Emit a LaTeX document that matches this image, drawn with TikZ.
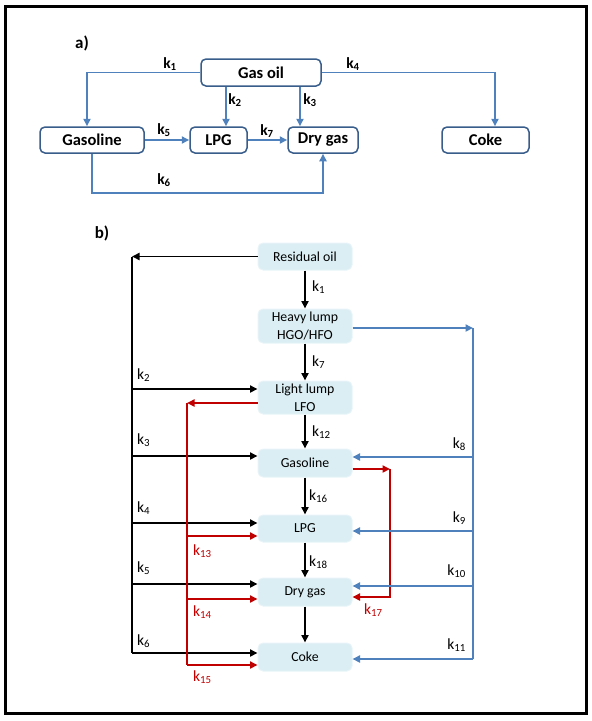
\documentclass[tikz,border=0pt]{standalone}
\usepackage{fontspec}
\setmainfont{Carlito}
\usetikzlibrary{arrows.meta,positioning}
\definecolor{lineblue}{RGB}{79,129,189}
\definecolor{boxedge}{RGB}{56,93,138}
\definecolor{lumpfill}{RGB}{218,238,243}
\definecolor{lumpedge}{RGB}{232,244,248}
\definecolor{darkred}{RGB}{192,0,0}
\tikzset{
  gbox/.style={draw=boxedge,line width=1.5pt,rounded corners=5pt,fill=white,
    minimum height=26pt,inner sep=0pt,font=\fontsize{16.5}{18}\selectfont\bfseries},
  lump/.style={fill=lumpfill,draw=lumpedge,line width=1pt,rounded corners=5pt,
    minimum width=94pt,inner sep=0pt,align=center,font=\fontsize{13.8}{18}\selectfont},
  tip/.style={-{Triangle[length=7.5pt,width=7pt]}},
  bline/.style={draw=lineblue,line width=1.9pt},
  barrow/.style={bline,tip},
  kline/.style={draw=black,line width=1.9pt},
  karrow/.style={kline,tip},
  rline/.style={draw=darkred,line width=1.9pt},
  rarrow/.style={rline,tip},
  klaba/.style={inner sep=0pt,font=\fontsize{15.5}{17}\selectfont\bfseries},
  klabb/.style={inner sep=0pt,font=\fontsize{15.5}{17}\selectfont},
}
\begin{document}
\begin{tikzpicture}[x=1pt,y=-1pt]
\useasboundingbox (0,0) rectangle (592,721);
\draw[line width=3pt] (5.5,6.5) rectangle (586.5,713.5);

% a) lumps of gas oil
\node[font=\fontsize{17}{19}\selectfont\bfseries] (tita) at (82,43) {a)};
\node[gbox,minimum width=120pt,minimum height=27pt] (gasoil) at (261,72.5) {Gas oil};
\node[gbox,minimum width=104pt] (gasoline) at (92,140) {Gasoline};
\node[gbox,minimum width=57pt] (lpg) at (218.5,140) {LPG};
\node[gbox,minimum width=70pt] (drygas) at (323,140) {Dry gas};
\node[gbox,minimum width=87pt] (coke) at (485.5,140) {Coke};
\draw[barrow] (gasoil.west) -| ([xshift=-5pt]gasoline.north);
\draw[barrow] (gasoil.east) -| ([xshift=9.5pt]coke.north);
\draw[barrow] ([xshift=7.5pt]lpg.north |- gasoil.south) -- ([xshift=7.5pt]lpg.north);
\draw[barrow] ([xshift=-23pt]drygas.north |- gasoil.south) -- ([xshift=-23pt]drygas.north);
\draw[barrow] (gasoline.east) -- (lpg.west);
\draw[barrow] (lpg.east) -- (drygas.west);
\draw[barrow] (gasoline.south) -- ++(0,39) -| (drygas.south);
\node[klaba] (ka1) at (170,64) {k\textsubscript{1}};
\node[klaba] (ka4) at (353,64) {k\textsubscript{4}};
\node[klaba] (ka2) at (235,100) {k\textsubscript{2}};
\node[klaba] (ka3) at (310,100) {k\textsubscript{3}};
\node[klaba] (ka5) at (164,130) {k\textsubscript{5}};
\node[klaba] (ka7) at (267,131) {k\textsubscript{7}};
\node[klaba] (ka6) at (164,180) {k\textsubscript{6}};

% b) lumps of residual oil
\node[font=\fontsize{17}{19}\selectfont\bfseries] (titb) at (102,233) {b)};
\node[lump,minimum height=27pt] (resid) at (305,256.5) {Residual oil};
\node[lump,minimum height=34pt] (heavy) at (305,326) {Heavy lump\\HGO/HFO};
\node[lump,minimum height=33pt] (light) at (305,397.5) {Light lump\\LFO};
\node[lump,minimum height=28pt] (gasb) at (305,463) {Gasoline};
\node[lump,minimum height=27pt] (lpgb) at (305,528.5) {LPG};
\node[lump,minimum height=28pt] (dryb) at (305,592) {Dry gas};
\node[lump,minimum height=28pt] (cokeb) at (305,657) {Coke};
\foreach \a/\b in {resid/heavy,heavy/light,light/gasb,gasb/lpgb,lpgb/dryb,dryb/cokeb}
  \draw[karrow] (\a) -- (\b);

% black branch on the left
\coordinate (ltop) at (132,256.5);
\coordinate (lbot) at (132,653);
\draw[karrow] (resid.west) -- (ltop);
\draw[kline] (ltop) -- (lbot);
\foreach \n/\s in {light/8.5,gasb/7,lpgb/5.5,dryb/8,cokeb/4}
  \draw[karrow] ([yshift=\s pt]\n.west -| ltop) -- ([yshift=\s pt]\n.west);

% red branches
\coordinate (rtop) at (187,403);
\coordinate (rbot) at (187,665);
\draw[rarrow] ([yshift=-5.5pt]light.west) -- (rtop);
\draw[rline] (rtop) -- (rbot);
\foreach \n/\s in {lpgb/7.5,dryb/7,cokeb/8}
  \draw[rarrow] ([yshift=-\s pt]\n.west -| rtop) -- ([yshift=-\s pt]\n.west);
\coordinate (rright) at (390,469);
\draw[rarrow] ([yshift=-6pt]gasb.east) -- (rright);
\draw[rarrow] (rright) |- ([yshift=-5pt]dryb.east);

% blue branch on the right
\coordinate (btop) at (473,328);
\coordinate (bbot) at (473,659);
\draw[barrow] ([yshift=-2pt]heavy.east) -- (btop);
\draw[bline] (btop) -- (bbot);
\foreach \n/\s in {gasb/6,lpgb/-2.5,dryb/6,cokeb/-2}
  \draw[barrow] ([yshift=\s pt]\n.east -| btop) -- ([yshift=\s pt]\n.east);

% rate constants
\node[klabb,anchor=west] (kb1) at (312,287) {k\textsubscript{1}};
\node[klabb,anchor=west] (kb7) at (312,362) {k\textsubscript{7}};
\node[klabb,anchor=west] (kb12) at (312,432) {k\textsubscript{12}};
\node[klabb,anchor=west] (kb16) at (309,496) {k\textsubscript{16}};
\node[klabb,anchor=west] (kb18) at (309,562) {k\textsubscript{18}};
\node[klabb,anchor=west] (kb2) at (137,375) {k\textsubscript{2}};
\node[klabb,anchor=west] (kb3) at (137,440) {k\textsubscript{3}};
\node[klabb,anchor=west] (kb4) at (137,508) {k\textsubscript{4}};
\node[klabb,anchor=west] (kb5) at (137,568) {k\textsubscript{5}};
\node[klabb,anchor=west] (kb6) at (137,641) {k\textsubscript{6}};
\node[klabb,anchor=west,darkred] (kb13) at (193,551) {k\textsubscript{13}};
\node[klabb,anchor=west,darkred] (kb14) at (193,612) {k\textsubscript{14}};
\node[klabb,anchor=west,darkred] (kb15) at (193,677) {k\textsubscript{15}};
\node[klabb,anchor=west,darkred] (kb17) at (364,610) {k\textsubscript{17}};
\node[klabb,anchor=east] (kb8) at (466,444) {k\textsubscript{8}};
\node[klabb,anchor=east] (kb9) at (466,518) {k\textsubscript{9}};
\node[klabb,anchor=east] (kb10) at (466,571) {k\textsubscript{10}};
\node[klabb,anchor=east] (kb11) at (466,645) {k\textsubscript{11}};
\end{tikzpicture}
\end{document}
